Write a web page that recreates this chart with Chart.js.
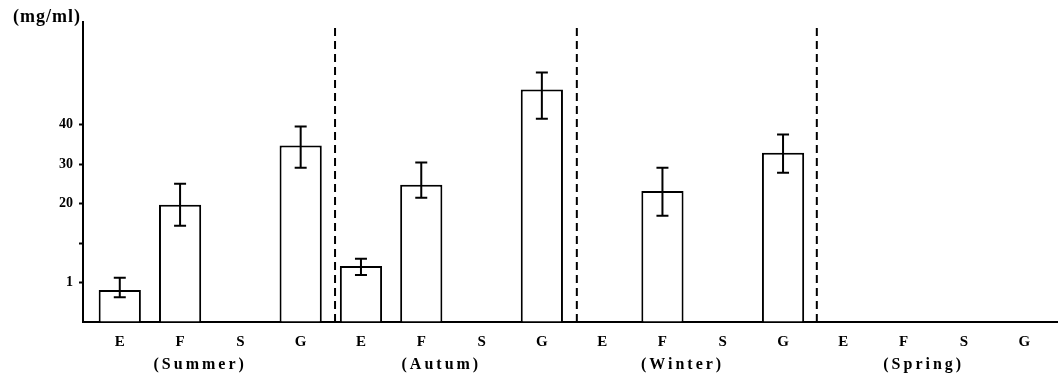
<!DOCTYPE html>
<html>
<head>
<meta charset="utf-8">
<script src="https://cdn.jsdelivr.net/npm/chart.js@4"></script>
<style>
  html, body { margin: 0; padding: 0; background: #fff; }
  #wrap { width: 1058px; height: 385px; position: relative; }
</style>
</head>
<body>
<div id="wrap"><canvas id="chart"></canvas></div>
<script>
// categorias no eixo x (4 grupos: E F S G)
const categories = ['E','F','S','G', 'E','F','S','G', 'E','F','S','G', 'E','F','S','G'];
const seasons = ['(Summer)', '(Autum)', '(Winter)', '(Spring)'];

// valores em unidades do eixo (eixo quebrado: 0, 1, -, 20, 30, 40)
const values  = [0.81, 2.97, null, 4.47,  1.42, 3.48, null, 5.89,  null, 3.32, null, 4.29,  null, null, null, null];
const errLow  = [0.63, 2.44, null, 3.91,  1.19, 3.15, null, 5.15,  null, 2.69, null, 3.78,  null, null, null, null];
const errHigh = [1.12, 3.50, null, 4.95,  1.60, 4.04, null, 6.32,  null, 3.91, null, 4.75,  null, null, null, null];

const yTicks = [0, 1, 2, 3, 4, 5];
const yTickLabels = ['', '1', '', '20', '30', '40'];

// linhas tracejadas entre as estações
const dividers = [3.57, 7.58, 11.56];

const serif = "'Liberation Serif', 'Times New Roman', serif";

// barras de erro
const errorBars = {
  id: 'errorBars',
  afterDatasetsDraw(chart) {
    const { ctx, scales: { x, y } } = chart;
    ctx.save();
    ctx.strokeStyle = '#000';
    ctx.lineWidth = 2;
    values.forEach((v, i) => {
      if (errLow[i] == null) return;
      const px = x.getPixelForValue(i);
      const lo = y.getPixelForValue(errLow[i]);
      const hi = y.getPixelForValue(errHigh[i]);
      ctx.beginPath();
      ctx.moveTo(px, lo); ctx.lineTo(px, hi);
      ctx.moveTo(px - 6, lo); ctx.lineTo(px + 6, lo);
      ctx.moveTo(px - 6, hi); ctx.lineTo(px + 6, hi);
      ctx.stroke();
    });
    ctx.restore();
  }
};

// tracejados, unidade e nomes das estações
const extras = {
  id: 'extras',
  afterDraw(chart) {
    const { ctx, chartArea, scales: { x } } = chart;
    ctx.save();
    ctx.strokeStyle = '#000';
    ctx.lineWidth = 2;
    ctx.setLineDash([8, 5]);
    dividers.forEach(d => {
      const px = x.getPixelForValue(d);
      ctx.beginPath();
      ctx.moveTo(px, chartArea.top + 6);
      ctx.lineTo(px, chartArea.bottom);
      ctx.stroke();
    });
    ctx.setLineDash([]);

    ctx.fillStyle = '#000';
    ctx.textBaseline = 'middle';
    ctx.font = 'bold 18px ' + serif;
    ctx.textAlign = 'right';
    ctx.letterSpacing = '1px';
    ctx.fillText('(mg/ml)', chartArea.left - 2, chartArea.top - 5);

    ctx.font = 'bold 16px ' + serif;
    ctx.textAlign = 'center';
    ctx.letterSpacing = '3px';
    seasons.forEach((s, g) => {
      ctx.fillText(s, x.getPixelForValue(g * 4 + 1.3) + 2, x.top + 43);
    });
    ctx.restore();
  }
};

new Chart(document.getElementById('chart'), {
  type: 'bar',
  data: {
    datasets: [{
      data: values.map((v, i) => ({ x: i, y: v })),
      backgroundColor: '#fff',
      borderColor: '#000',
      borderWidth: 2,
      barPercentage: 0.7,
      categoryPercentage: 1
    }]
  },
  options: {
    responsive: true,
    maintainAspectRatio: false,
    animation: false,
    layout: { padding: { top: 22, left: 0, right: 0, bottom: 0 } },
    plugins: { legend: { display: false }, tooltip: { enabled: false } },
    scales: {
      x: {
        type: 'linear',
        offset: false,
        min: -0.61, max: 15.56,
        afterBuildTicks: s => { s.ticks = categories.map((c, i) => ({ value: i })); },
        afterFit: s => { s.height = 63; },
        grid: { display: false, drawTicks: false, offset: false },
        border: { display: true, color: '#000', width: 2 },
        ticks: {
          autoSkip: false, maxRotation: 0, padding: 11, color: '#000',
          font: { family: serif, size: 15, weight: 'bold' },
          callback: v => categories[v]
        }
      },
      y: {
        min: 0, max: 7.6,
        afterBuildTicks: s => { s.ticks = yTicks.map(v => ({ value: v })); },
        afterFit: s => { s.width = 83; },
        grid: {
          drawOnChartArea: false, tickLength: 4, tickWidth: 2,
          color: c => (c.tick && c.tick.value === 0) ? 'rgba(0,0,0,0)' : '#000'
        },
        border: { display: true, color: '#000', width: 2 },
        ticks: {
          padding: 6, color: '#000',
          font: { family: serif, size: 14, weight: 'bold' },
          callback: v => yTickLabels[yTicks.indexOf(v)]
        }
      }
    }
  },
  plugins: [errorBars, extras]
});
</script>
</body>
</html>
